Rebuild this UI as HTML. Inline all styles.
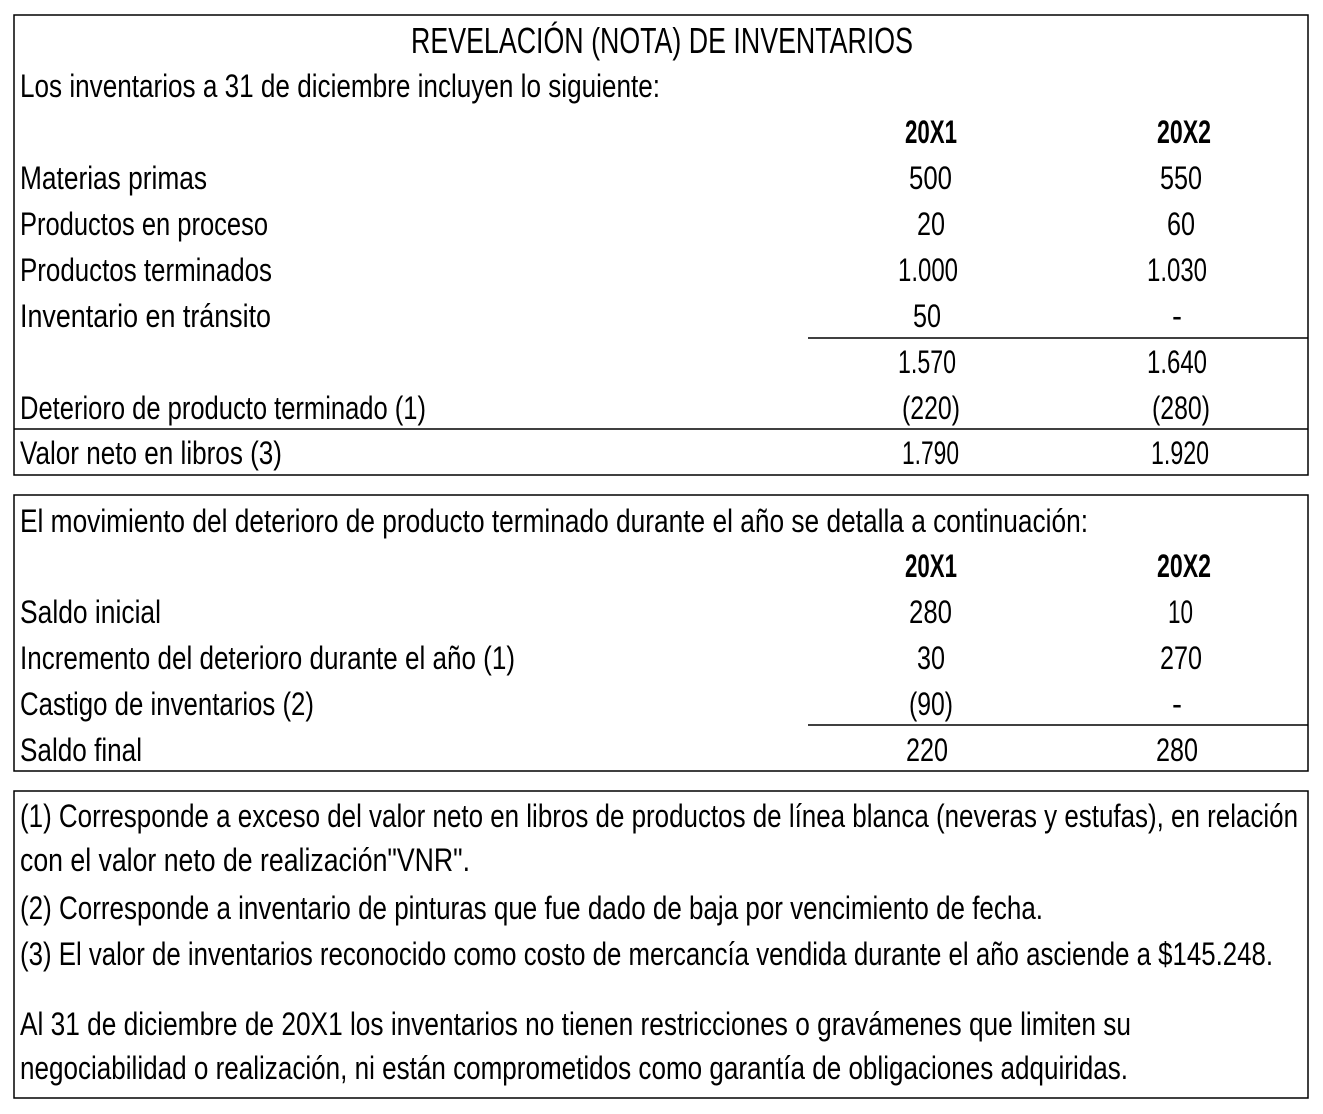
<!DOCTYPE html>
<html><head><meta charset="utf-8"><style>
html,body{margin:0;padding:0;background:#fff;}
svg{display:block}
text{font-family:"Liberation Sans Narrow","Liberation Sans",sans-serif;font-size:32px;fill:#000;}
.b{font-weight:bold}
</style></head><body>
<svg width="1323" height="1114" viewBox="0 0 1323 1114" xmlns="http://www.w3.org/2000/svg">
<g fill="none" stroke="#000" stroke-width="1.5">
<rect x="14" y="15" width="1294" height="460"/>
<rect x="14" y="495" width="1294" height="276"/>
<rect x="14" y="791" width="1294" height="307"/>
<line x1="808" y1="338" x2="1308" y2="338"/>
<line x1="14" y1="429" x2="1308" y2="429"/>
<line x1="808" y1="725" x2="1308" y2="725"/>
</g>
<g lengthAdjust="spacingAndGlyphs">
<text x="411" y="53" textLength="502" lengthAdjust="spacingAndGlyphs" style="font-size:36px">REVELACIÓN (NOTA) DE INVENTARIOS</text>
<text x="20" y="97" textLength="640" lengthAdjust="spacingAndGlyphs">Los inventarios a 31 de diciembre incluyen lo siguiente:</text>
<text class="b" x="905" y="143" textLength="52" lengthAdjust="spacingAndGlyphs">20X1</text>
<text class="b" x="1157" y="143" textLength="54" lengthAdjust="spacingAndGlyphs">20X2</text>
<text x="20" y="189" textLength="187" lengthAdjust="spacingAndGlyphs">Materias primas</text>
<text x="909" y="189" textLength="43" lengthAdjust="spacingAndGlyphs">500</text><text x="1160" y="189" textLength="42" lengthAdjust="spacingAndGlyphs">550</text>
<text x="20" y="235" textLength="248" lengthAdjust="spacingAndGlyphs">Productos en proceso</text>
<text x="917" y="235" textLength="28" lengthAdjust="spacingAndGlyphs">20</text><text x="1167" y="235" textLength="28" lengthAdjust="spacingAndGlyphs">60</text>
<text x="20" y="281" textLength="252" lengthAdjust="spacingAndGlyphs">Productos terminados</text>
<text x="898" y="281" textLength="60" lengthAdjust="spacingAndGlyphs">1.000</text><text x="1147" y="281" textLength="60" lengthAdjust="spacingAndGlyphs">1.030</text>
<text x="20" y="327" textLength="251" lengthAdjust="spacingAndGlyphs">Inventario en tránsito</text>
<text x="913" y="327" textLength="28" lengthAdjust="spacingAndGlyphs">50</text><text x="1172" y="327" textLength="10" lengthAdjust="spacingAndGlyphs">-</text>
<text x="898" y="373" textLength="58" lengthAdjust="spacingAndGlyphs">1.570</text><text x="1147" y="373" textLength="60" lengthAdjust="spacingAndGlyphs">1.640</text>
<text x="20" y="419" textLength="406" lengthAdjust="spacingAndGlyphs">Deterioro de producto terminado (1)</text>
<text x="902" y="419" textLength="58" lengthAdjust="spacingAndGlyphs">(220)</text><text x="1152" y="419" textLength="58" lengthAdjust="spacingAndGlyphs">(280)</text>
<text x="20" y="464" textLength="262" lengthAdjust="spacingAndGlyphs">Valor neto en libros (3)</text>
<text x="902" y="464" textLength="57" lengthAdjust="spacingAndGlyphs">1.790</text><text x="1151" y="464" textLength="58" lengthAdjust="spacingAndGlyphs">1.920</text>

<text x="20" y="532" textLength="1068" lengthAdjust="spacingAndGlyphs">El movimiento del deterioro de producto terminado durante el año se detalla a continuación:</text>
<text class="b" x="905" y="577" textLength="52" lengthAdjust="spacingAndGlyphs">20X1</text>
<text class="b" x="1157" y="577" textLength="54" lengthAdjust="spacingAndGlyphs">20X2</text>
<text x="20" y="623" textLength="141" lengthAdjust="spacingAndGlyphs">Saldo inicial</text>
<text x="909" y="623" textLength="43" lengthAdjust="spacingAndGlyphs">280</text><text x="1168" y="623" textLength="25" lengthAdjust="spacingAndGlyphs">10</text>
<text x="20" y="669" textLength="495" lengthAdjust="spacingAndGlyphs">Incremento del deterioro durante el año (1)</text>
<text x="917" y="669" textLength="28" lengthAdjust="spacingAndGlyphs">30</text><text x="1160" y="669" textLength="42" lengthAdjust="spacingAndGlyphs">270</text>
<text x="20" y="715" textLength="294" lengthAdjust="spacingAndGlyphs">Castigo de inventarios (2)</text>
<text x="909" y="715" textLength="44" lengthAdjust="spacingAndGlyphs">(90)</text><text x="1172" y="715" textLength="10" lengthAdjust="spacingAndGlyphs">-</text>
<text x="20" y="761" textLength="122" lengthAdjust="spacingAndGlyphs">Saldo final</text>
<text x="906" y="761" textLength="42" lengthAdjust="spacingAndGlyphs">220</text><text x="1156" y="761" textLength="42" lengthAdjust="spacingAndGlyphs">280</text>

<text x="20" y="827" textLength="1278" lengthAdjust="spacingAndGlyphs">(1) Corresponde a exceso del valor neto en libros de productos de línea blanca (neveras y estufas), en relación</text>
<text x="20" y="871" textLength="450" lengthAdjust="spacingAndGlyphs">con el valor neto de realización"VNR".</text>
<text x="20" y="919" textLength="1023" lengthAdjust="spacingAndGlyphs">(2) Corresponde a inventario de pinturas que fue dado de baja por vencimiento de fecha.</text>
<text x="20" y="965" textLength="1253" lengthAdjust="spacingAndGlyphs">(3) El valor de inventarios reconocido como costo de mercancía vendida durante el año asciende a $145.248.</text>
<text x="20" y="1035" textLength="1111" lengthAdjust="spacingAndGlyphs">Al 31 de diciembre de 20X1 los inventarios no tienen restricciones o gravámenes que  limiten su</text>
<text x="20" y="1079" textLength="1108" lengthAdjust="spacingAndGlyphs">negociabilidad o realización, ni están comprometidos como garantía de obligaciones adquiridas.</text>
</g>
</svg>
</body></html>
